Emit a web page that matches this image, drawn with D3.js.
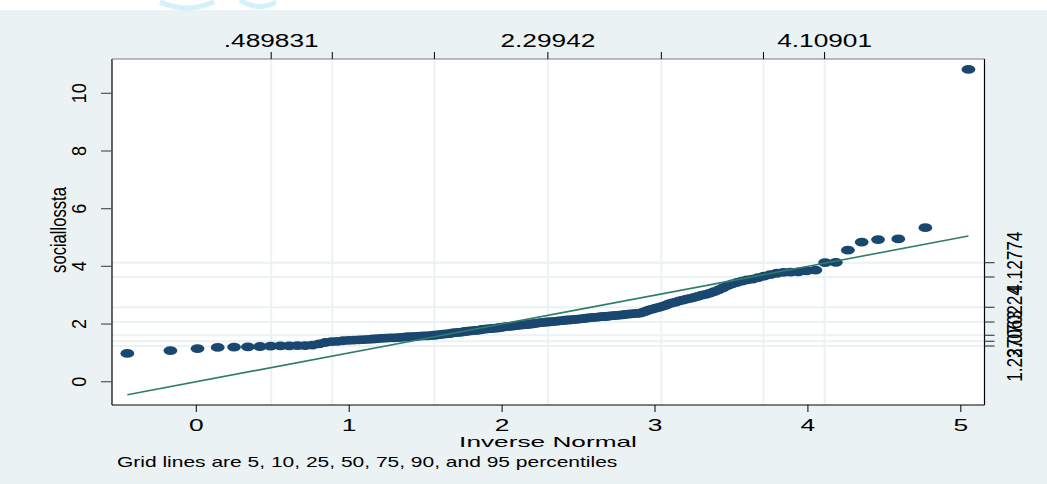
<!DOCTYPE html>
<html><head><meta charset="utf-8">
<script src="https://cdn.jsdelivr.net/npm/d3@7"></script>
<style>body{margin:0;background:#fff}svg{display:block}</style>
</head><body>
<svg id="c" width="1047" height="484"></svg>
<script>
const values = [0.98,1.08,1.15,1.19,1.20,1.21,1.22,1.237,1.24,1.24,
1.25,1.25,1.27,1.31,1.36,1.39,1.40,1.42,1.43,1.44,
1.45,1.46,1.47,1.48,1.49,1.50,1.51,1.52,1.52,1.53,
1.54,1.55,1.56,1.56,1.57,1.58,1.59,1.59,1.60,1.61,
1.62,1.63,1.65,1.66,1.67,1.69,1.70,1.71,1.72,1.74,
1.75,1.76,1.77,1.78,1.79,1.81,1.82,1.83,1.84,1.85,
1.86,1.87,1.88,1.90,1.91,1.92,1.93,1.94,1.95,1.96,
1.97,1.98,1.99,2.00,2.01,2.02,2.04,2.05,2.06,2.07,
2.07,2.08,2.09,2.10,2.11,2.12,2.13,2.14,2.14,2.15,
2.16,2.17,2.18,2.19,2.20,2.21,2.22,2.23,2.24,2.25,
2.26,2.26,2.27,2.28,2.29,2.30,2.31,2.32,2.33,2.34,
2.35,2.36,2.37,2.38,2.41,2.45,2.49,2.52,2.55,2.58,
2.61,2.65,2.70,2.73,2.76,2.80,2.83,2.86,2.89,2.92,
2.96,3.00,3.03,3.07,3.12,3.18,3.25,3.33,3.39,3.44,
3.49,3.53,3.56,3.61,3.66,3.71,3.76,3.79,3.80,3.81,
3.84,3.87,4.1277,4.14,4.56,4.84,4.93,4.95,5.34,10.83];

const normalMean = 2.29942;
const normalSD = 1.10016;
const gridPercentiles = [5, 10, 25, 50, 75, 90, 95];
const topTickLabels = [".489831", "", "", "2.29942", "", "", "4.10901"];
const yGridValues = [1.237063, 1.401, 1.609, 2.070224, 2.580, 3.630, 4.12774];
const rightTickLabels = ["1.237063", "", "", "2.070224", "", "", "4.12774"];
const xTicks = [0, 1, 2, 3, 4, 5];
const yTicks = [0, 2, 4, 6, 8, 10];
const xTitle = "Inverse Normal";
const yTitle = "sociallossta";
const note = "Grid lines are 5, 10, 25, 50, 75, 90, and 95 percentiles";

// inverse standard normal (Acklam)
function invNorm(p){
  const a=[-39.69683028665376,220.9460984245205,-275.9285104469687,138.3577518672690,-30.66479806614716,2.506628277459239];
  const b=[-54.47609879822406,161.5858368580409,-155.6989798598866,66.80131188771972,-13.28068155288572];
  const c=[-0.007784894002430293,-0.3223964580411365,-2.400758277161838,-2.549732539343734,4.374664141464968,2.938163982698783];
  const d=[0.007784695709041462,0.3224671290700398,2.445134137142996,3.754408661907416];
  const pl=0.02425;let q,r;
  if(p<pl){q=Math.sqrt(-2*Math.log(p));return (((((c[0]*q+c[1])*q+c[2])*q+c[3])*q+c[4])*q+c[5])/((((d[0]*q+d[1])*q+d[2])*q+d[3])*q+1);}
  if(p>1-pl){q=Math.sqrt(-2*Math.log(1-p));return -(((((c[0]*q+c[1])*q+c[2])*q+c[3])*q+c[4])*q+c[5])/((((d[0]*q+d[1])*q+d[2])*q+d[3])*q+1);}
  q=p-0.5;r=q*q;return (((((a[0]*r+a[1])*r+a[2])*r+a[3])*r+a[4])*r+a[5])*q/(((((b[0]*r+b[1])*r+b[2])*r+b[3])*r+b[4])*r+1);
}

const n = values.length;
const pts = values.map((v,i)=>({x: normalMean + normalSD*invNorm((i+1)/(n+1)), y: v}));
const xGridValues = gridPercentiles.map(p => normalMean + normalSD*invNorm(p/100));

const svg = d3.select("#c");
const W=1047,H=484;
const L=112,R=984.5,T=59,B=405;
const x = d3.scaleLinear().domain([-0.5512, 5.1548]).range([L, R]);
const y = d3.scaleLinear().domain([-0.808, 11.19]).range([B, T]);

// backgrounds
svg.append("rect").attr("x",0).attr("y",0).attr("width",W).attr("height",H).attr("fill","#fff");
svg.append("rect").attr("x",0).attr("y",10).attr("width",W).attr("height",H-10).attr("fill","#EAF2F3");
// faint watermark arcs at top
svg.append("path").attr("d","M160,2 Q186,14 214,2").attr("fill","none").attr("stroke","#d3f1fb").attr("stroke-width",5);
svg.append("path").attr("d","M240,0 Q258,12 276,2").attr("fill","none").attr("stroke","#d3f1fb").attr("stroke-width",5);
svg.append("rect").attr("x",L).attr("y",T).attr("width",R-L).attr("height",B-T).attr("fill","#fff");

// grid lines
const gc="#EAF2F3";
svg.append("g").selectAll("line").data(xGridValues).join("line")
  .attr("x1",d=>x(d)).attr("x2",d=>x(d)).attr("y1",T).attr("y2",B)
  .attr("stroke",gc).attr("stroke-width",2);
svg.append("g").selectAll("line").data(yGridValues).join("line")
  .attr("x1",L).attr("x2",R).attr("y1",d=>y(d)).attr("y2",d=>y(d))
  .attr("stroke",gc).attr("stroke-width",2);

// points
svg.append("g").selectAll("ellipse").data(pts).join("ellipse")
  .attr("cx",d=>x(d.x)).attr("cy",d=>y(d.y)).attr("rx",6.9).attr("ry",4.4)
  .attr("fill","#1a476f");

// reference line y = x
const x0=pts[0].x, x1=pts[n-1].x;
svg.append("line").attr("x1",x(x0)).attr("y1",y(x0)).attr("x2",x(x1)).attr("y2",y(x1))
  .attr("stroke","#2f7d6a").attr("stroke-width",1.6);

// axis lines
svg.append("line").attr("x1",L).attr("x2",L).attr("y1",T).attr("y2",B).attr("stroke","#000").attr("stroke-width",1.2);
svg.append("line").attr("x1",L).attr("x2",R).attr("y1",B).attr("y2",B).attr("stroke","#000").attr("stroke-width",1.2);
svg.append("line").attr("x1",L).attr("x2",R).attr("y1",T).attr("y2",T).attr("stroke","#7a7a7a").attr("stroke-width",1.2);
svg.append("line").attr("x1",R).attr("x2",R).attr("y1",T).attr("y2",B).attr("stroke","#000").attr("stroke-width",1.2);

function htext(px,py,s,size,sx,anchor){
  svg.append("g").attr("transform",`translate(${px},${py}) scale(${sx},1)`)
    .append("text").attr("text-anchor",anchor||"middle")
    .attr("font-family","Liberation Sans, Arial, sans-serif").attr("font-size",size)
    .attr("fill","#000").text(s);
}
function vtext(px,py,s,size,sx){
  svg.append("g").attr("transform",`translate(${px},${py}) scale(${sx},1) rotate(-90)`)
    .append("text").attr("text-anchor","middle")
    .attr("font-family","Liberation Sans, Arial, sans-serif").attr("font-size",size)
    .attr("fill","#000").text(s);
}

// bottom axis
xTicks.forEach(t=>{
  svg.append("line").attr("x1",x(t)).attr("x2",x(t)).attr("y1",B).attr("y2",B+7).attr("stroke","#000").attr("stroke-width",1);
  htext(x(t),431,String(t),16.5,1.6);
});
// left axis
yTicks.forEach(t=>{
  svg.append("line").attr("x1",L-11).attr("x2",L).attr("y1",y(t)).attr("y2",y(t)).attr("stroke","#555").attr("stroke-width",1.2);
  vtext(86,y(t),String(t),18,1.12);
});
// top axis
xGridValues.forEach((v,i)=>{
  svg.append("line").attr("x1",x(v)).attr("x2",x(v)).attr("y1",T-7).attr("y2",T).attr("stroke","#000").attr("stroke-width",1);
  if(topTickLabels[i]) htext(x(v),46.5,topTickLabels[i],18.5,1.42);
});
// right axis
yGridValues.forEach((v,i)=>{
  svg.append("line").attr("x1",R).attr("x2",R+10).attr("y1",y(v)).attr("y2",y(v)).attr("stroke","#444").attr("stroke-width",1.2);
  if(rightTickLabels[i]) vtext(1022,y(v),rightTickLabels[i],17.2,1.25);
});

// titles
vtext(66,230,yTitle,16.6,1.3);
htext(548,446.5,xTitle,15,1.75);
htext(117,467.3,note,14,1.5,"start");
</script>
</body></html>
